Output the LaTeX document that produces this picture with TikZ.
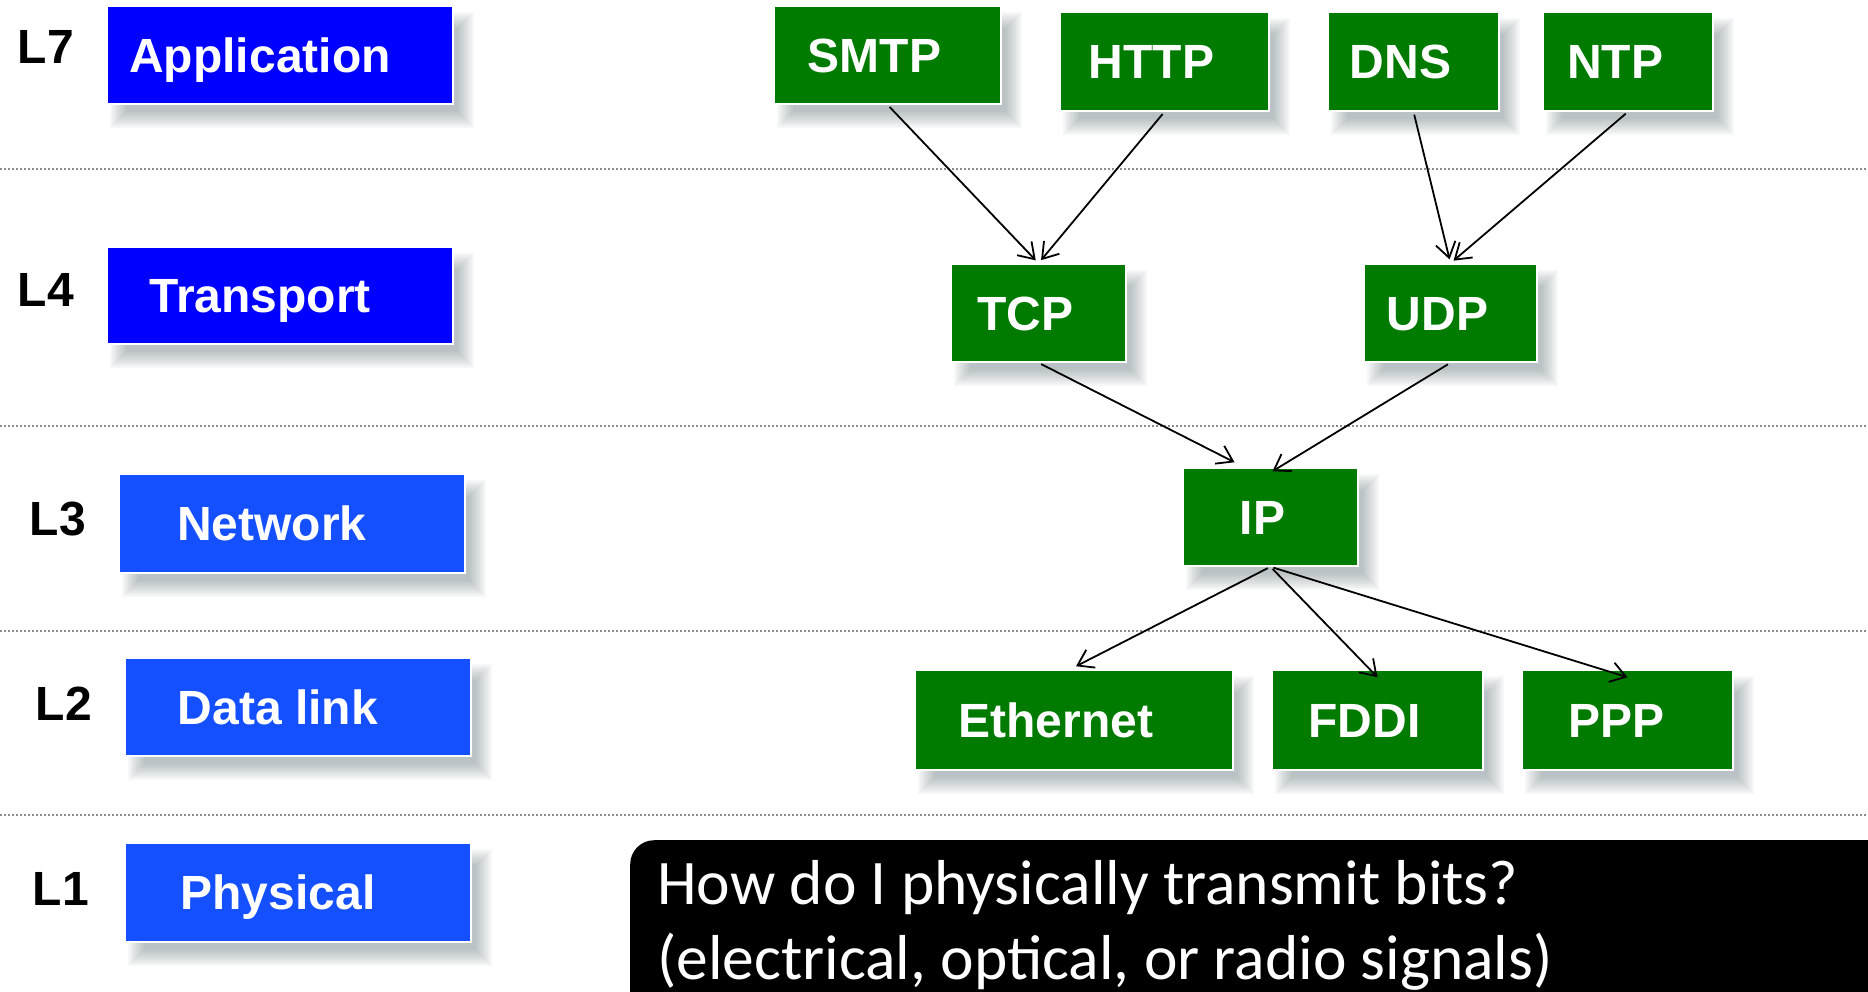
\documentclass[tikz,border=0pt]{standalone}
\usepackage{fontspec}
\setmainfont{Liberation Sans}
\newfontfamily\calloutfont{Carlito}
\usetikzlibrary{arrows.meta,calc}

\definecolor{layerblue}{RGB}{0,0,255}
\definecolor{layerblueL}{RGB}{20,80,255}
\definecolor{protogreen}{RGB}{0,123,0}
\definecolor{dotgray}{RGB}{140,140,140}
\definecolor{shadowtone}{RGB}{60,80,90}

\pgfdeclarelayer{background}
\pgfsetlayers{background,main}

\tikzset{
  box/.style={draw=white, line width=1.5pt, inner sep=0pt, text=white,
    font=\fontsize{48}{56}\selectfont\bfseries,
    text height=34.5pt, text depth=0pt},
  layer/.style={box, fill=#1, minimum width=346pt, minimum height=98pt,
    execute at begin node={\hspace*{-40pt}}},
  proto/.style={box, fill=protogreen, execute at begin node={\hspace*{#1}}},
  proto/.default=-26pt,
  tag/.style={font=\fontsize{48}{56}\selectfont\bfseries, inner sep=0pt},
  link/.style={line width=1.8pt, -{Straight Barb[length=15pt,width=20pt]},
    shorten <=3pt},
  sep/.style={dotgray, line width=1.5pt, dash pattern=on 2pt off 2pt},
  shadowlayer/.style={fill=shadowtone, opacity=0.042},
}

% soft drop shadow behind a named box: nested translucent rectangles
\newcommand\dropshadow[1]{%
  \begin{pgfonlayer}{background}
    \foreach \d in {-8,-6,...,8}
      \fill[shadowlayer] ($(#1.north west)+(12+\d,15+\d)$)
                rectangle ($(#1.south east)+(12-\d,15-\d)$);
  \end{pgfonlayer}}

\begin{document}
\begin{tikzpicture}[x=1pt,y=-1pt]
  \useasboundingbox (0,0) rectangle (1868,992);
  \clip (0,0) rectangle (1868,992);
  \begin{pgfonlayer}{background}
    \fill[white] (0,0) rectangle (1868,992);
  \end{pgfonlayer}

  % layer separators
  \draw[sep] (0,169) -- (1868,169);
  \draw[sep] (0,426) -- (1868,426);
  \draw[sep] (0,631) -- (1868,631);
  \draw[sep] (0,815) -- (1868,815);

  % layer names
  \node[tag] (t7) at (46,47)  {L7};
  \node[tag] (t4) at (46,290) {L4};
  \node[tag] (t3) at (58,519) {L3};
  \node[tag] (t2) at (64,704) {L2};
  \node[tag] (t1) at (61,889) {L1};

  \node[layer=layerblue]  (app)   at (280,55)    {Application};
  \node[layer=layerblue, minimum height=97pt] (trans) at (280,295.5) {Transport};
  \node[layer=layerblueL, minimum height=99pt] (net) at (292,523.5) {Network};
  \node[layer=layerblueL] (dl)    at (298,707)   {Data link};
  \node[layer=layerblueL, minimum height=99pt] (phys) at (298,892.5) {Physical};

  % protocols
  \node[proto, minimum width=227pt, minimum height=98pt]  (smtp) at (887.5,55)   {SMTP};
  \node[proto, minimum width=209pt, minimum height=99pt]  (http) at (1164.5,61.5) {HTTP};
  \node[proto, minimum width=171pt, minimum height=99pt]  (dns)  at (1413.5,61.5) {DNS};
  \node[proto, minimum width=170pt, minimum height=99pt]  (ntp)  at (1628,61.5)   {NTP};
  \node[proto, minimum width=175pt, minimum height=98pt]  (tcp)  at (1038.5,313)  {TCP};
  \node[proto, minimum width=173pt, minimum height=98pt]  (udp)  at (1450.5,313)  {UDP};
  \node[proto=-16pt, minimum width=175pt, minimum height=98pt] (ip) at (1270.5,517) {IP};
  \node[proto=-36pt, minimum width=318pt, minimum height=100pt] (eth) at (1074,720) {Ethernet};
  \node[proto, minimum width=211pt, minimum height=100pt] (fddi) at (1377.5,720)  {FDDI};
  \node[proto=-22pt, minimum width=211pt, minimum height=100pt] (ppp) at (1627.5,720) {PPP};

  \foreach \n in {app,trans,net,dl,phys,smtp,http,dns,ntp,tcp,udp,ip,eth,fddi,ppp}
    {\dropshadow{\n}}

  % dependencies
  \draw[link, shorten >=4pt] (smtp.south) -- (tcp.north);
  \draw[link, shorten >=4pt] (http.south) -- (tcp.north);
  \draw[link, shorten >=4pt] (dns.south)  -- (udp.north);
  \draw[link, shorten >=4pt] (ntp.south)  -- (udp.north);
  \draw[link] (tcp.south) -- ($(ip.north)+(-36,-5)$);
  \draw[link] (udp.south) -- ($(ip.north)+(2,4)$);
  \draw[link] (ip.south) -- ($(eth.north)+(2,-3)$);
  \draw[link] (ip.south) -- ($(fddi.north)+(0,8)$);
  \draw[link] (ip.south) -- ($(ppp.north)+(0,8)$);

  % physical layer question
  \node[fill=black, rounded corners=24pt, anchor=north west,
        minimum width=1400pt, minimum height=250pt, inner sep=0pt]
        (callout) at (630,840) {};
  \node[anchor=base west, text=white, align=left, inner sep=0pt,
        font=\calloutfont\fontsize{63.5}{75}\selectfont]
        (question) at (657,979)
        {How do I physically transmit bits?\\(electrical, optical, or radio signals)};
\end{tikzpicture}
\end{document}
